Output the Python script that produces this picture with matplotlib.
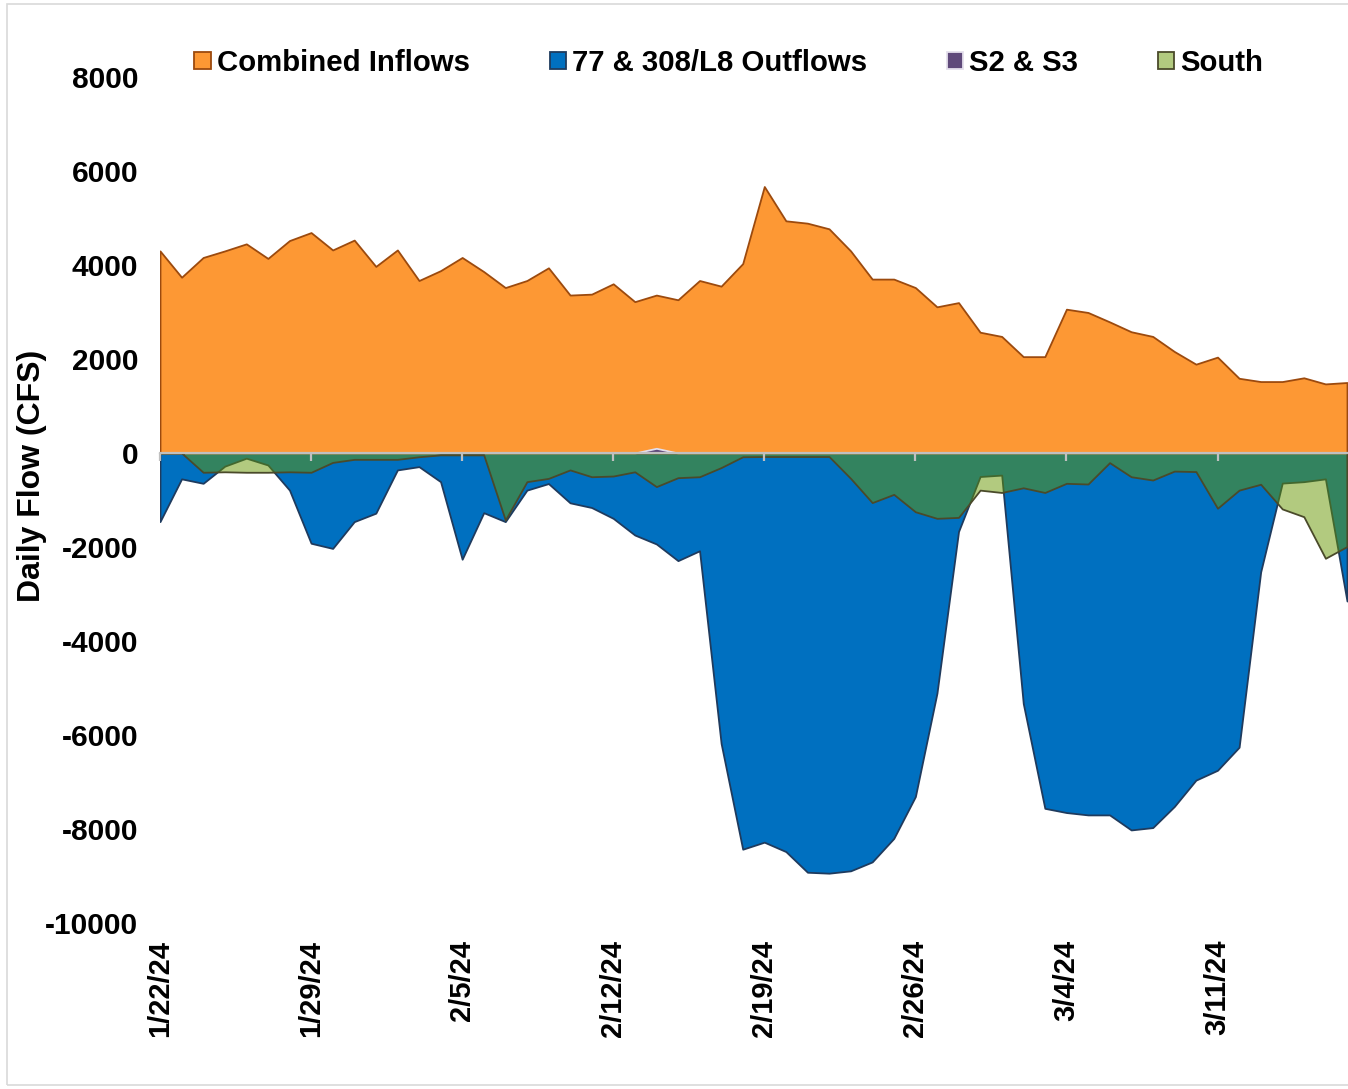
import numpy as np
import pandas as pd
import matplotlib
matplotlib.use('Agg')
from matplotlib import pyplot as plt
from matplotlib.patches import Rectangle, Patch

plt.rcParams['font.family'] = ['Liberation Sans', 'DejaVu Sans']
plt.rcParams['font.weight'] = 'bold'
plt.rcParams['axes.unicode_minus'] = False

# daily values, 1/22/24 .. 3/17/24
dates = pd.date_range('2024-01-22', '2024-03-17', freq='D')

combined_inflows = [4300, 3740, 4160, 4300, 4450, 4140, 4520, 4690, 4320, 4530,
                    3970, 4320, 3670, 3880, 4160, 3860, 3520, 3670, 3940, 3360,
                    3380, 3600, 3220, 3360, 3260, 3670, 3550, 4030, 5670, 4940,
                    4890, 4770, 4300, 3700, 3700, 3520, 3110, 3200, 2570, 2480,
                    2050, 2050, 3060, 2990, 2790, 2580, 2480, 2160, 1890, 2040,
                    1590, 1520, 1520, 1600, 1470, 1500]
outflows_77_308 = [-1460, -550, -645, -280, -110, -255, -790, -1920, -2030, -1460,
                   -1280, -360, -290, -610, -2260, -1270, -1460, -790, -650, -1060,
                   -1160, -1390, -1745, -1935, -2290, -2080, -6180, -8430, -8280, -8480,
                   -8920, -8940, -8890, -8700, -8200, -7310, -5110, -1670, -500, -470,
                   -5330, -7560, -7650, -7700, -7700, -8020, -7970, -7520, -6960, -6750,
                   -6260, -2530, -640, -610, -550, -3150]
s2_s3 = [0] * 23 + [100] + [0] * 32
south = [0, 0, -410, -400, -410, -410, -400, -410, -200, -135,
         -135, -135, -80, -40, -40, -40, -1425, -610, -540, -360,
         -505, -490, -400, -715, -525, -505, -310, -80, -75, -75,
         -75, -75, -540, -1055, -880, -1250, -1390, -1370, -790, -840,
         -740, -840, -645, -660, -205, -505, -575, -385, -395, -1175,
         -790, -665, -1190, -1355, -2240, -1990]

labels = ['Combined Inflows', '77 & 308/L8 Outflows', 'S2 & S3', 'South']
x = np.arange(len(dates))

W, H = 1348, 1089
fig = plt.figure(figsize=(W / 100, H / 100), dpi=100)
ax = fig.add_axes([160 / W, 1 - 923 / H, 1187 / W, 846 / H])

c_orange = '#FD9834'
c_blue = '#0070C0'
c_purple = '#5F497A'
c_green = (102 / 255, 150 / 255, 0, 0.5)

ax.fill_between(x, 0, combined_inflows, facecolor=c_orange, edgecolor='#9C4A0E', lw=1.3, zorder=1)
ax.fill_between(x, 0, outflows_77_308, facecolor=c_blue, edgecolor='#1F3B5E', lw=1.3, zorder=1.1)
ax.fill_between(x, 0, s2_s3, facecolor=c_purple, edgecolor='#E4DFEC', lw=1.3, zorder=1.2)
ax.fill_between(x, 0, south, facecolor=c_green, edgecolor='#4A4A2A', lw=1.3, zorder=1.3)

ax.set_xlim(0, len(dates) - 1)
ax.set_ylim(-10000, 8000)
ax.set_yticks(range(-10000, 8001, 2000))
ax.tick_params(axis='y', length=0, pad=15.5, labelsize=21.5)

# zero line with small ticks pointing down
for s in ['top', 'right', 'left']:
    ax.spines[s].set_visible(False)
ax.spines['bottom'].set_position(('data', 0))
ax.spines['bottom'].set_color('#C0C0C0')
ax.spines['bottom'].set_linewidth(1.6)
ax.spines['bottom'].set_zorder(5)
ax.set_axisbelow(False)
tick_idx = x[::7]
ax.set_xticks(tick_idx)
ax.tick_params(axis='x', direction='out', length=6, width=1.6, color='#C0C0C0', labelbottom=False)

for i in tick_idx:
    d = dates[i]
    ax.text(i, -0.02, f'{d.month}/{d.day}/{d.strftime("%y")}', transform=ax.get_xaxis_transform(),
            rotation=90, ha='center', va='top', fontsize=21, fontweight='bold')

fig.text(32 / W, 1 - 476 / H, 'Daily Flow (CFS)', rotation=90, ha='center', va='center',
         fontsize=23, fontweight='bold')

handles = [Patch(facecolor=c_orange, edgecolor='#9C4A0E', lw=1.3),
           Patch(facecolor=c_blue, edgecolor='#1F3B5E', lw=1.3),
           Patch(facecolor=c_purple, edgecolor='#E4DFEC', lw=1.3),
           Patch(facecolor=c_green, edgecolor='#4A4A2A', lw=1.3)]
fig.legend(handles, labels, loc='center', bbox_to_anchor=(729 / W, 1 - 63 / H), ncol=4,
           frameon=False, fontsize=21.2, handlelength=0.55, handleheight=0.55,
           handletextpad=0.22, columnspacing=2.7)

fig.patches.append(Rectangle((7 / W, 4 / H), 1.0, 1081 / H, transform=fig.transFigure,
                             fill=False, edgecolor='#D9D9D9', lw=1.2))

fig.savefig('out.png', dpi=100)
